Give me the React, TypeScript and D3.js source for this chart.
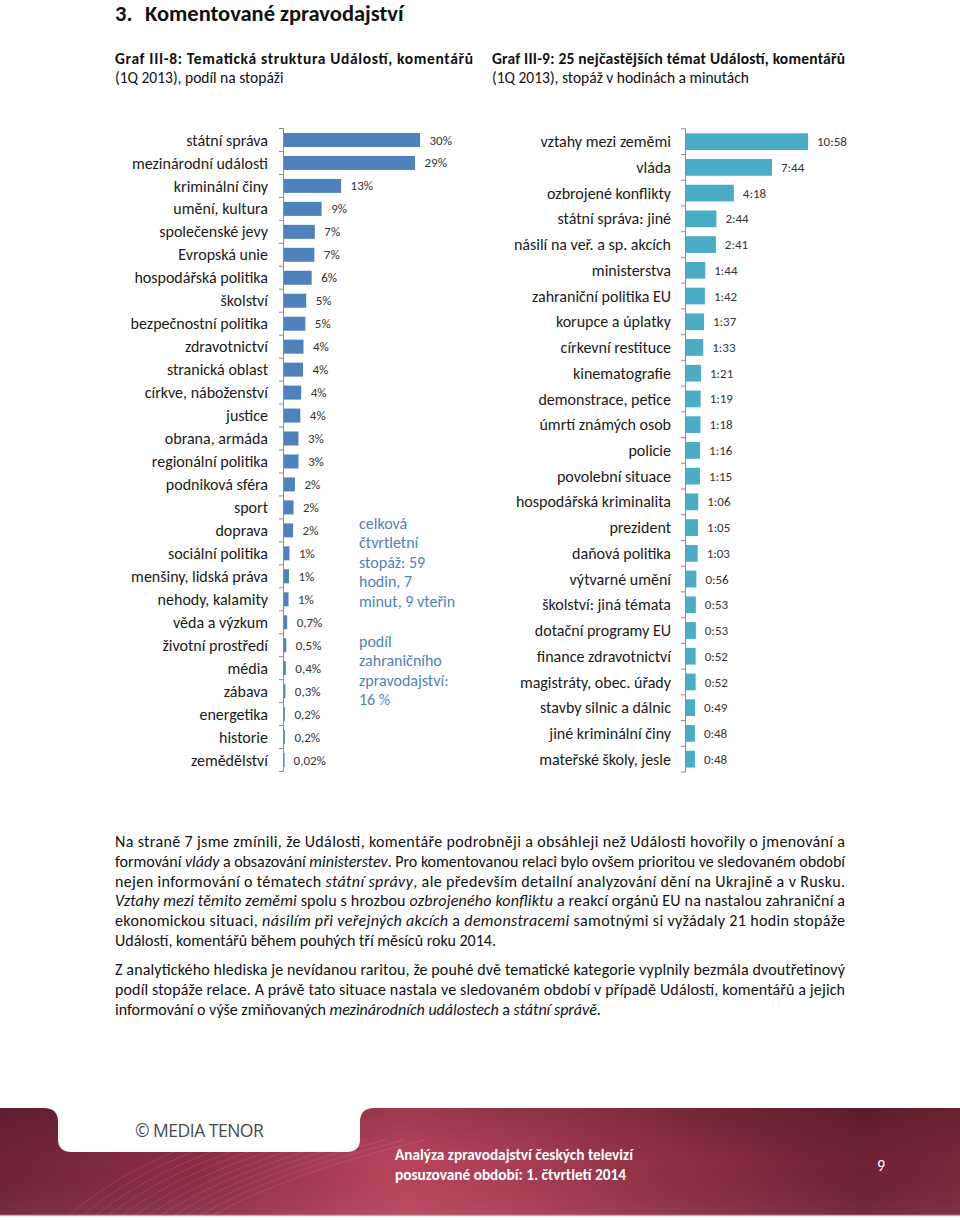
import React from "react";
import * as d3 from "d3";

// ---------- data ----------
const leftCategories = [
  "státní správa", "mezinárodní události", "kriminální činy", "umění, kultura",
  "společenské jevy", "Evropská unie", "hospodářská politika", "školství",
  "bezpečnostní politika", "zdravotnictví", "stranická oblast", "církve, náboženství",
  "justice", "obrana, armáda", "regionální politika", "podniková sféra", "sport",
  "doprava", "sociální politika", "menšiny, lidská práva", "nehody, kalamity",
  "věda a výzkum", "životní prostředí", "média", "zábava", "energetika", "historie",
  "zemědělství",
];
const leftValues = [
  30, 28.9, 12.6, 8.3, 6.8, 6.7, 6.1, 4.9, 4.7, 4.3, 4.2, 3.8, 3.6, 3.2, 3.2, 2.4,
  2.1, 2.0, 1.2, 1.1, 1.0, 0.7, 0.5, 0.4, 0.3, 0.2, 0.2, 0.02,
];
const leftLabels = [
  "30%", "29%", "13%", "9%", "7%", "7%", "6%", "5%", "5%", "4%", "4%", "4%", "4%",
  "3%", "3%", "2%", "2%", "2%", "1%", "1%", "1%", "0,7%", "0,5%", "0,4%", "0,3%",
  "0,2%", "0,2%", "0,02%",
];

const rightCategories = [
  "vztahy mezi zeměmi", "vláda", "ozbrojené konflikty", "státní správa: jiné",
  "násilí na veř. a sp. akcích", "ministerstva", "zahraniční politika EU",
  "korupce a úplatky", "církevní restituce", "kinematografie", "demonstrace, petice",
  "úmrtí známých osob", "policie", "povolební situace", "hospodářská kriminalita",
  "prezident", "daňová politika", "výtvarné umění", "školství: jiná témata",
  "dotační programy EU", "finance zdravotnictví", "magistráty, obec. úřady",
  "stavby silnic a dálnic", "jiné kriminální činy", "mateřské školy, jesle",
];
// minutes of airtime
const rightMinutes = [
  658, 464, 258, 164, 161, 104, 102, 97, 93, 81, 79, 78, 76, 75, 66, 65, 63, 56, 53,
  53, 52, 52, 49, 48, 48,
];

const noteLines1 = ["celková", "čtvrtletní", "stopáž: 59", "hodin, 7", "minut, 9 vteřin"];
const noteLines2 = ["podíl", "zahraničního", "zpravodajství:", "16 %"];

type Seg = { t: string; i?: boolean };
const para1: { segs: Seg[]; justify: boolean }[] = [
  { segs: [{ t: "Na straně 7 jsme zmínili, že Události, komentáře podrobněji a obsáhleji než Události hovořily o jmenování a" }], justify: true },
  { segs: [{ t: "formování " }, { t: "vlády", i: true }, { t: " a obsazování " }, { t: "ministerstev", i: true }, { t: ". Pro komentovanou relaci bylo ovšem prioritou ve sledovaném období" }], justify: true },
  { segs: [{ t: "nejen informování o tématech " }, { t: "státní správy", i: true }, { t: ", ale především detailní analyzování dění na Ukrajině a v Rusku." }], justify: true },
  { segs: [{ t: "Vztahy mezi těmito zeměmi", i: true }, { t: " spolu s hrozbou " }, { t: "ozbrojeného konfliktu", i: true }, { t: " a reakcí orgánů EU na nastalou zahraniční a" }], justify: true },
  { segs: [{ t: "ekonomickou situaci, " }, { t: "násilím při veřejných akcích", i: true }, { t: " a " }, { t: "demonstracemi", i: true }, { t: " samotnými si vyžádaly 21 hodin stopáže" }], justify: true },
  { segs: [{ t: "Událostí, komentářů během pouhých tří měsíců roku 2014." }], justify: false },
];
const para2: { segs: Seg[]; justify: boolean }[] = [
  { segs: [{ t: "Z analytického hlediska je nevídanou raritou, že pouhé dvě tematické kategorie vyplnily bezmála dvoutřetinový" }], justify: true },
  { segs: [{ t: "podíl stopáže relace. A právě tato situace nastala ve sledovaném období v případě Událostí, komentářů a jejich" }], justify: true },
  { segs: [{ t: "informování o výše zmiňovaných " }, { t: "mezinárodních událostech", i: true }, { t: " a " }, { t: "státní správě", i: true }, { t: "." }], justify: false },
];

const FONT = "Carlito, Lato, 'Liberation Sans', sans-serif";
const fmtMin = (m: number) => `${Math.floor(m / 60)}:${String(m % 60).padStart(2, "0")}`;

export default function App() {
  // left chart scales
  const yL = d3.scaleBand<string>().domain(leftCategories).range([128.5, 771.5]).paddingInner(0.39).paddingOuter(0.195);
  const xL = d3.scaleLinear().domain([0, 30]).range([284, 420]);
  // right chart scales
  const yR = d3.scaleBand<string>().domain(rightCategories).range([128.8, 772]).paddingInner(0.35).paddingOuter(0.175);
  const xR = d3.scaleLinear().domain([0, 658]).range([686, 808]);

  const ticksL = d3.range(leftCategories.length + 1).map((i) => 128.5 + i * yL.step());
  const ticksR = d3.range(rightCategories.length + 1).map((i) => 128.8 + i * yR.step());

  const renderPara = (lines: { segs: Seg[]; justify: boolean }[], y0: number, dy: number) =>
    lines.map((ln, i) => (
      <text
        key={i}
        x={115}
        y={y0 + i * dy}
        fontSize={16}
        fill="#111"
        {...(ln.justify ? { textLength: 730, lengthAdjust: "spacing" } : {})}
      >
        {ln.segs.map((s, j) => (
          <tspan key={j} fontStyle={s.i ? "italic" : "normal"}>{s.t}</tspan>
        ))}
      </text>
    ));

  const decoLines = d3.range(12);

  return (
    <svg
      width={960}
      height={1220}
      style={{ position: "absolute", left: 0, top: 0, background: "#fff" }}
      fontFamily={FONT}
    >
      <defs>
        <linearGradient id="band" x1="0" x2="1" y1="0" y2="0">
          <stop offset="0" stopColor="#70233a" />
          <stop offset="0.2" stopColor="#8c2d42" />
          <stop offset="0.42" stopColor="#b8455c" />
          <stop offset="0.55" stopColor="#a93d52" />
          <stop offset="0.72" stopColor="#892e40" />
          <stop offset="0.9" stopColor="#6e2233" />
          <stop offset="1" stopColor="#7a2838" />
        </linearGradient>
        <linearGradient id="bandV" x1="0" x2="0" y1="0" y2="1">
          <stop offset="0" stopColor="#000" stopOpacity="0.16" />
          <stop offset="0.5" stopColor="#000" stopOpacity="0" />
          <stop offset="1" stopColor="#fff" stopOpacity="0.05" />
        </linearGradient>
      </defs>

      {/* Title */}
      <text x={115} y={21} fontSize={22.5} fontWeight="bold" fill="#111">3.</text>
      <text x={145} y={21} fontSize={22.5} fontWeight="bold" fill="#111">Komentované zpravodajství</text>

      {/* Headings */}
      <text x={115} y={64} fontSize={15.5} fontWeight="bold" fill="#111" textLength={358} lengthAdjust="spacing">
        Graf III-8: Tematická struktura Událostí, komentářů
      </text>
      <text x={115} y={83} fontSize={15.5} fill="#111">(1Q 2013), podíl na stopáži</text>
      <text x={492} y={64} fontSize={15.5} fontWeight="bold" fill="#111" textLength={353} lengthAdjust="spacing">
        Graf III-9: 25 nejčastějších témat Událostí, komentářů
      </text>
      <text x={492} y={83} fontSize={15.5} fill="#111">(1Q 2013), stopáž v hodinách a minutách</text>

      {/* Left chart */}
      <g>
        {leftCategories.map((c, i) => (
          <g key={c}>
            <rect x={xL(0)} y={yL(c)!} width={Math.max(0.6, xL(leftValues[i]) - xL(0))} height={yL.bandwidth()} fill="#4F81BD" />
            <text x={268} y={yL(c)! + yL.bandwidth() / 2} dy="0.35em" textAnchor="end" fontSize={16} fill="#1a1a1a">
              {c}
            </text>
            <text x={xL(leftValues[i]) + 9.5} y={yL(c)! + yL.bandwidth() / 2} dy="0.35em" fontSize={13} fill="#333">
              {leftLabels[i]}
            </text>
          </g>
        ))}
        <line x1={283.5} x2={283.5} y1={128.5} y2={771.5} stroke="#8c8c8c" strokeWidth={1} />
        {ticksL.map((t, i) => (
          <line key={i} x1={279} x2={283.5} y1={t} y2={t} stroke="#8c8c8c" strokeWidth={1} />
        ))}
        {noteLines1.map((l, i) => (
          <text key={"n1" + i} x={359} y={523 + i * 19.6} dy="0.35em" fontSize={16} fill="#4F81BD">{l}</text>
        ))}
        {noteLines2.map((l, i) => (
          <text key={"n2" + i} x={359} y={641 + i * 19.6} dy="0.35em" fontSize={16} fill="#4F81BD">{l}</text>
        ))}
      </g>

      {/* Right chart */}
      <g>
        {rightCategories.map((c, i) => (
          <g key={c}>
            <rect x={xR(0)} y={yR(c)!} width={xR(rightMinutes[i]) - xR(0)} height={yR.bandwidth()} fill="#4BACC6" />
            <text x={671} y={yR(c)! + yR.bandwidth() / 2} dy="0.35em" textAnchor="end" fontSize={16} fill="#1a1a1a">
              {c}
            </text>
            <text x={xR(rightMinutes[i]) + 9} y={yR(c)! + yR.bandwidth() / 2} dy="0.35em" fontSize={13} fill="#333">
              {fmtMin(rightMinutes[i])}
            </text>
          </g>
        ))}
        <line x1={685.5} x2={685.5} y1={128.8} y2={772} stroke="#8c8c8c" strokeWidth={1} />
        {ticksR.map((t, i) => (
          <line key={i} x1={681} x2={685.5} y1={t} y2={t} stroke="#8c8c8c" strokeWidth={1} />
        ))}
      </g>

      {/* Paragraphs */}
      {renderPara(para1, 847, 19.8)}
      {renderPara(para2, 975, 19.8)}

      {/* Footer */}
      <rect x={0} y={1108} width={960} height={107} fill="url(#band)" />
      <rect x={0} y={1108} width={960} height={107} fill="url(#bandV)" />
      <line x1={0} x2={960} y1={1215.5} y2={1215.5} stroke="#c9a9b0" strokeWidth={1.5} />
      {decoLines.map((i) => (
        <path
          key={i}
          d={`M ${70 + i * 13} 1215 Q ${120 + i * 16} 1170 ${205 + i * 20} 1140`}
          fill="none"
          stroke="#fff"
          strokeOpacity={0.13}
          strokeWidth={0.8}
        />
      ))}
      <path
        d="M 44 1108 Q 58 1108 58 1122 L 58 1139 Q 58 1152 72 1152 L 346 1152 Q 360 1152 360 1139 L 360 1122 Q 360 1108 374 1108 Z"
        fill="#fff"
      />
      <text x={135} y={1137} fontSize={17.5} fill="#4a4a4a" fontFamily="'Open Sans', sans-serif" letterSpacing={-0.5}>
        © MEDIA TENOR
      </text>
      <text x={395} y={1160} fontSize={15.3} fontWeight="bold" fill="#fff">Analýza zpravodajství českých televizí</text>
      <text x={395} y={1180} fontSize={15.3} fontWeight="bold" fill="#fff">posuzované období: 1. čtvrtletí 2014</text>
      <text x={877} y={1171} fontSize={16} fill="#fff">9</text>
    </svg>
  );
}
